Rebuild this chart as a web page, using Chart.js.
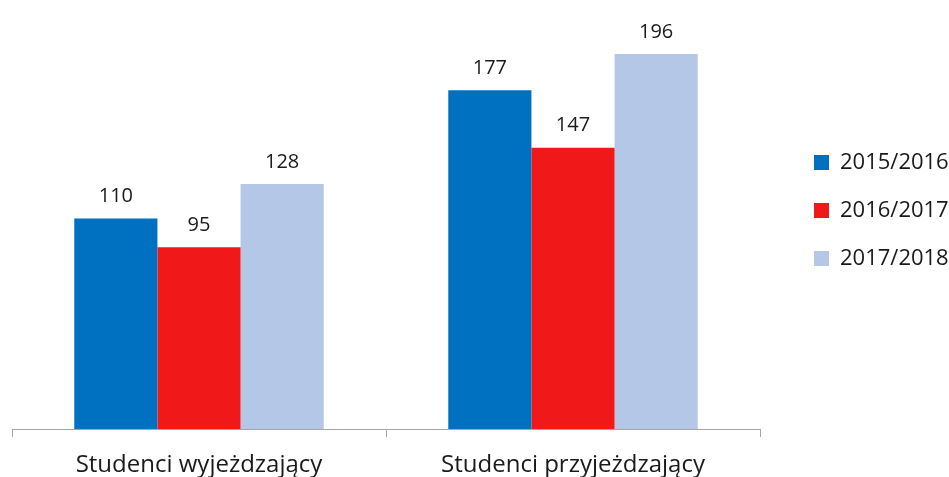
<!DOCTYPE html>
<html>
<head>
<meta charset="utf-8">
<script src="https://cdn.jsdelivr.net/npm/chart.js@4/dist/chart.umd.min.js"></script>
<style>
	html, body { margin: 0; padding: 0; background: #ffffff; }
	#wrap { width: 949px; height: 477px; }
</style>
</head>
<body>
<div id="wrap"><canvas id="chart-studenci" width="949" height="477"></canvas></div>
<script>
	// kategorie i serie
	var categories = ["Studenci wyjeżdzający", "Studenci przyjeżdzający"];
	var seriesNames = ["2015/2016", "2016/2017", "2017/2018"];
	var values2015 = [110, 177];
	var values2016 = [95, 147];
	var values2017 = [128, 196];
	var colors = ["#0070C0", "#F01818", "#B4C7E7"];

	var fontFamily = "'Open Sans', 'Noto Sans', sans-serif";
	var legendPadding = 26;

	// etykiety nad slupkami
	var valueLabels = {
		id: "valueLabels",
		afterDatasetsDraw: function(chart)
		{
			var ctx = chart.ctx;
			ctx.save();
			ctx.fillStyle = "#1a1a1a";
			ctx.font = "20px " + fontFamily;
			ctx.textAlign = "center";
			ctx.textBaseline = "bottom";
			chart.data.datasets.forEach(function(ds, i)
			{
				chart.getDatasetMeta(i).data.forEach(function(bar, j)
				{
					ctx.fillText(ds.data[j], bar.x, bar.y - 12);
				});
			});
			ctx.restore();
		}
	};

	// legenda: stala szerokosc i przesuniecie jak w oryginale
	var legendPlace = {
		id: "legendPlace",
		beforeInit: function(chart)
		{
			var legend = chart.legend;
			var origFit = legend.fit;
			legend.fit = function()
			{
				origFit.call(this);
				this.width = 189;
			};
		},
		afterLayout: function(chart)
		{
			var legend = chart.legend;
			legend.left = 814 - legendPadding;
			legend.top -= 40;
			legend.bottom -= 40;
		}
	};

	new Chart("chart-studenci", {
		type: "bar",
		data: {
			labels: categories,
			datasets: [
				{ label: seriesNames[0], data: values2015, backgroundColor: colors[0] },
				{ label: seriesNames[1], data: values2016, backgroundColor: colors[1] },
				{ label: seriesNames[2], data: values2017, backgroundColor: colors[2] }
			]
		},
		options: {
			responsive: false,
			animation: false,
			devicePixelRatio: 1,
			barPercentage: 1,
			categoryPercentage: 0.667,
			layout: { padding: { left: 12, top: 8, right: 0, bottom: -16 } },
			plugins: {
				tooltip: { enabled: false },
				legend: {
					position: "right",
					align: "center",
					labels: {
						boxWidth: 15,
						boxHeight: 15,
						padding: legendPadding,
						color: "#1a1a1a",
						font: { size: 22, family: fontFamily }
					}
				}
			},
			scales: {
				x: {
					grid: {
						offset: true,
						drawOnChartArea: false,
						drawTicks: true,
						tickLength: 8,
						color: "#a6a6a6"
					},
					border: { color: "#a6a6a6", width: 1 },
					ticks: {
						color: "#1a1a1a",
						padding: 16,
						font: { size: 24, family: fontFamily, lineHeight: 1 }
					}
				},
				y: {
					display: false,
					min: 0,
					max: 220
				}
			}
		},
		plugins: [valueLabels, legendPlace]
	});
</script>
</body>
</html>
